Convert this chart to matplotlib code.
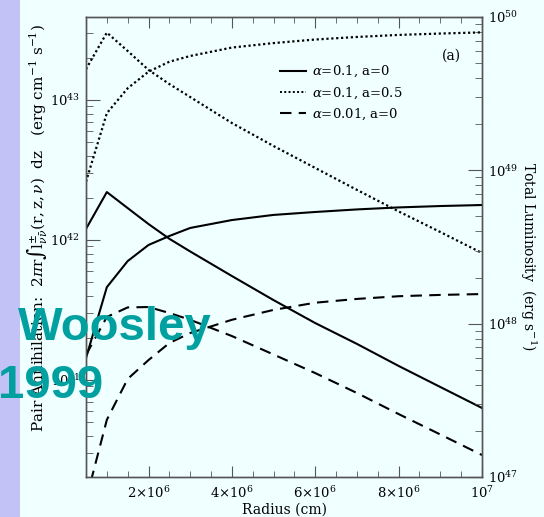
import matplotlib
matplotlib.use("Agg")
import matplotlib.pyplot as plt
from matplotlib.ticker import MultipleLocator, LogLocator, NullFormatter, FuncFormatter
from matplotlib.lines import Line2D
import matplotlib.patches as mpatches
import math

plt.rcParams["font.family"] = ["DejaVu Serif"]
plt.rcParams["mathtext.fontset"] = "dejavuserif"

# Radius grid (cm)
radius = [0.5e6, 1.0e6, 1.5e6, 2.0e6, 2.5e6, 3.0e6, 4.0e6,
          5.0e6, 6.0e6, 7.0e6, 8.0e6, 9.0e6, 1.0e7]

# Energy deposition per unit radius (erg cm^-1 s^-1), left axis
dep_a01_a0 = [1.20e42, 2.20e42, 1.69e42, 1.30e42, 1.02e42, 8.28e41, 5.53e41,
              3.72e41, 2.55e41, 1.81e41, 1.26e41, 8.91e40, 6.31e40]
dep_a01_a05 = [1.66e43, 3.03e43, 2.24e43, 1.64e43, 1.30e43, 1.05e43, 6.85e42,
               4.69e42, 3.27e42, 2.28e42, 1.60e42, 1.14e42, 8.07e41]
dep_a001_a0 = [1.51e41, 2.82e41, 3.30e41, 3.32e41, 3.01e41, 2.69e41, 2.06e41,
               1.52e41, 1.12e41, 8.07e40, 5.71e40, 4.08e40, 2.91e40]

# Integrated luminosity (erg s^-1), right axis
lum_a01_a0 = [5.97e47, 1.73e48, 2.56e48, 3.26e48, 3.73e48, 4.21e48, 4.74e48,
              5.12e48, 5.35e48, 5.56e48, 5.73e48, 5.85e48, 5.94e48]
lum_a01_a05 = [8.43e48, 2.36e49, 3.43e49, 4.40e49, 5.11e49, 5.57e49, 6.32e49,
               6.76e49, 7.13e49, 7.41e49, 7.64e49, 7.80e49, 7.94e49]
lum_a001_a0 = [7.08e46, 2.36e47, 4.36e47, 5.79e47, 7.48e47, 8.69e47, 1.06e48,
               1.23e48, 1.37e48, 1.45e48, 1.51e48, 1.54e48, 1.56e48]

series_labels = [r"$\alpha$=0.1, a=0", r"$\alpha$=0.1, a=0.5", r"$\alpha$=0.01, a=0"]

BG = "#F0FFFF"
SPINE = "#555555"
solid = "-"
dotted = (0, (1.0, 1.2))
dashed = (0, (5.5, 3.5))

fig = plt.figure(figsize=(5.44, 5.17), dpi=100, facecolor=BG)
# lavender strip along the left edge of the slide
fig.patches.append(mpatches.Rectangle((0, 0), 20 / 544, 1, transform=fig.transFigure,
                                      facecolor="#C2C2F7", edgecolor="none", zorder=0))

ax = fig.add_axes([86 / 544, 40 / 517, 396 / 544, 460 / 517])
ax.set_facecolor(BG)
ax2 = ax.twinx()

ax.set_yscale("log")
ax2.set_yscale("log")
ax.set_xlim(5e5, 1e7)
ax.set_ylim(10 ** 40.307, 10 ** 43.593)
ax2.set_ylim(1e47, 1e50)

lw = 1.5
ax.plot(radius, dep_a01_a0, color="black", lw=lw, ls=solid)
ax.plot(radius, dep_a01_a05, color="black", lw=1.6, ls=dotted)
ax.plot(radius, dep_a001_a0, color="black", lw=lw, ls=dashed)
ax2.plot(radius, lum_a01_a0, color="black", lw=lw, ls=solid)
ax2.plot(radius, lum_a01_a05, color="black", lw=1.6, ls=dotted)
ax2.plot(radius, lum_a001_a0, color="black", lw=lw, ls=dashed)

for a in (ax, ax2):
    for s in a.spines.values():
        s.set_color(SPINE)
        s.set_linewidth(1.0)

def xfmt(v, pos):
    if v <= 0:
        return ""
    if abs(v - 1e7) < 1:
        return r"$10^{7}$"
    return r"$%d{\times}10^{6}$" % round(v / 1e6)

def powfmt(v, pos):
    return r"$10^{%d}$" % round(math.log10(v))

ax.xaxis.set_major_locator(MultipleLocator(2e6))
ax.xaxis.set_minor_locator(MultipleLocator(5e5))
ax.xaxis.set_major_formatter(FuncFormatter(xfmt))

for a in (ax, ax2):
    a.yaxis.set_major_locator(LogLocator(base=10, numticks=20))
    a.yaxis.set_minor_locator(LogLocator(base=10, subs=range(2, 10), numticks=20))
    a.yaxis.set_major_formatter(FuncFormatter(powfmt))
    a.yaxis.set_minor_formatter(NullFormatter())

ax.tick_params(axis="x", which="both", direction="in", top=True, bottom=True,
               color=SPINE, labelsize=9.5, pad=6)
ax.tick_params(axis="x", which="major", length=8)
ax.tick_params(axis="x", which="minor", length=4)
ax.tick_params(axis="y", which="both", direction="in", left=True, right=False,
               color=SPINE, labelsize=9.5, pad=4)
ax.tick_params(axis="y", which="major", length=10)
ax.tick_params(axis="y", which="minor", length=5)
ax2.tick_params(axis="y", which="both", direction="in", left=False, right=True,
                color=SPINE, labelsize=9.5, pad=4)
ax2.tick_params(axis="y", which="major", length=10)
ax2.tick_params(axis="y", which="minor", length=5)

ax.set_xlabel("Radius (cm)", fontsize=10, labelpad=1)
fig.text(37 / 544, 1 - 228 / 517,
         r"Pair Annihilation:  $2\pi\mathrm{r}\int\mathrm{l}^{\pm}_{\nu\bar\nu}(\mathrm{r,z,}\nu)$  dz   (erg cm$^{-1}$ s$^{-1}$)",
         rotation=90, ha="center", va="center", fontsize=11)
fig.text(528 / 544, 1 - 256 / 517, r"Total Luminosity  (erg s$^{-1}$)",
         rotation=270, ha="center", va="center", fontsize=10)

ax.text(0.924, 0.917, "(a)", transform=ax.transAxes, ha="center", va="center", fontsize=10)

handles = [Line2D([], [], color="black", lw=lw, ls=solid),
           Line2D([], [], color="black", lw=1.4, ls=dotted),
           Line2D([], [], color="black", lw=lw, ls=dashed)]
ax.legend(handles, series_labels, loc="upper left",
          bbox_to_anchor=(280 / 544, 1 - 64 / 517), bbox_transform=fig.transFigure,
          frameon=False, fontsize=9.5, handlelength=2.0, handletextpad=0.4,
          labelspacing=0.45, borderaxespad=0, borderpad=0)

fig.text(18 / 544, 1 - 328 / 517, "Woosley", color="#00A0A0", fontsize=34,
         fontweight="bold", family=["Liberation Sans", "DejaVu Sans"],
         ha="left", va="center", zorder=10)
fig.text(-2 / 544, 1 - 386 / 517, "1999", color="#00A0A0", fontsize=34,
         fontweight="bold", family=["Liberation Sans", "DejaVu Sans"],
         ha="left", va="center", zorder=10)

fig.savefig("out.png", dpi=100, facecolor=BG)
